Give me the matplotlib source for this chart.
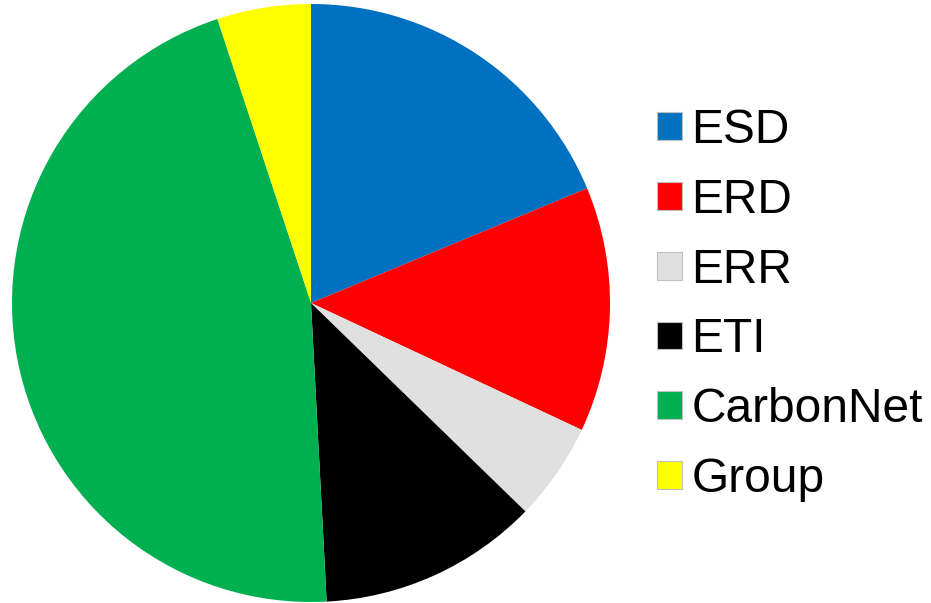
import matplotlib.pyplot as plt
from matplotlib.patches import Patch

labels = ["ESD", "ERD", "ERR", "ETI", "CarbonNet", "Group"]
values = [18.75, 13.25, 5.3, 11.9, 45.8, 5.07]
colors = ["#0070C0", "#FF0000", "#E0E0E0", "#000000", "#00B050", "#FFFF00"]

plt.rcParams["font.family"] = ["Liberation Sans", "DejaVu Sans"]

fig = plt.figure(figsize=(9.31, 6.03), dpi=100)
ax = fig.add_axes([12 / 931, 1 / 603, 598 / 931, 598 / 603])

wedges, _ = ax.pie(
    values,
    colors=colors,
    startangle=90,
    counterclock=False,
    radius=1,
    wedgeprops=dict(linewidth=0),
)
ax.set_xlim(-1, 1)
ax.set_ylim(-1, 1)
ax.set_aspect("equal")
ax.axis("off")

handles = [Patch(facecolor=c, edgecolor="#BFBFBF", linewidth=0.8) for c in colors]
fig.legend(
    handles,
    labels,
    loc="center left",
    bbox_to_anchor=(657 / 931, 1 - 305 / 603),
    frameon=False,
    fontsize=34.5,
    handlelength=0.52,
    handleheight=0.52,
    handletextpad=0.2,
    labelspacing=0.52,
    borderaxespad=0,
    borderpad=0,
)

fig.savefig("out.png", dpi=100)
